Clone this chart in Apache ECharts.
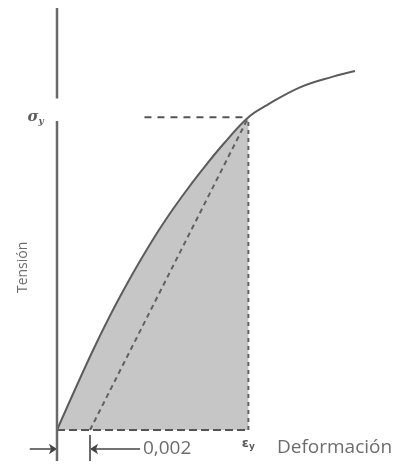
<!DOCTYPE html>
<html><head><meta charset="utf-8">
<script src="https://cdn.jsdelivr.net/npm/echarts@6/dist/echarts.min.js"></script>
<style>html,body{margin:0;padding:0;background:#fff}#c{width:403px;height:465px}</style>
</head><body><div id="c"></div>
<script>
// Stress–strain curve (normalised units)
const strain = [0, 0.002045, 0.003233, 0.004542, 0.005722, 0.006576, 0.007552, 0.008795, 0.010137, 0.0116, 0.012727, 0.014727, 0.016727, 0.01806];
const stress = [0, 60.4, 92.7, 124.9, 151.5, 169.2, 187.7, 209.5, 231.2, 252, 261.8, 276.1, 284.7, 289.2];
const offsetStrain = 0.002;
const yieldStrain = 0.0116;
const yieldStress = 252;
const offsetLabel = '0,002';
const xTitle = 'Deformación';
const yTitle = 'Tensión';

// layout constants (data space)
const X_MIN = -0.003, X_MAX = 0.02, Y_MIN = -25, Y_MAX = 340;
const axisGapTop = 267, axisGapBottom = 249;
const arrowY = -15.3;
const hDashStart = 0.0053;

const curve = strain.map((x, i) => [x, stress[i]]);
const yieldIdx = strain.indexOf(yieldStrain);
const filled = curve.slice(0, yieldIdx + 1);

const GRAY = '#5c5c5c';
const DASH = '#616161';
const seg = (pts, opts) => Object.assign({
  type: 'line', data: pts, symbol: 'none', silent: true, animation: false,
  lineStyle: { color: DASH, width: 2, type: [5, 4] }
}, opts || {});

const texts = [
  { value: [-0.0013, yieldStress], label: { formatter: '{a|σ}{s|y}', align: 'center', verticalAlign: 'middle' } },
  { value: [-0.00206, 131], label: { formatter: yTitle, rotate: 90, align: 'center', verticalAlign: 'middle', fontSize: 14 } },
  { value: [0.00521, arrowY], label: { formatter: offsetLabel, align: 'left', verticalAlign: 'middle', fontSize: 19 } },
  { value: [yieldStrain, -11], label: { formatter: '{e|ε}{s2|y}', align: 'center', verticalAlign: 'middle' } },
  { value: [0.01333, -14.5], label: { formatter: xTitle, align: 'left', verticalAlign: 'middle', fontSize: 19 } }
];

const chart = echarts.init(document.getElementById('c'), null, { renderer: 'canvas' });
chart.setOption({
  animation: false,
  backgroundColor: '#fff',
  grid: { left: 7.5, right: 16, top: 8, bottom: 4, containLabel: false },
  xAxis: { type: 'value', min: X_MIN, max: X_MAX, show: false },
  yAxis: { type: 'value', min: Y_MIN, max: Y_MAX, show: false },
  series: [
    seg(filled, { smooth: 0.4, lineStyle: { width: 0, opacity: 0 }, areaStyle: { color: '#c6c6c6', opacity: 1, origin: 0 } }),
    seg(curve, { smooth: 0.4, lineStyle: { color: GRAY, width: 2 } }),
    seg([[offsetStrain, 0], [yieldStrain, yieldStress]]),
    seg([[yieldStrain, 0], [yieldStrain, yieldStress]], { lineStyle: { color: DASH, width: 2, type: [4, 4] } }),
    seg([[hDashStart, yieldStress], [yieldStrain, yieldStress]], { lineStyle: { color: '#555', width: 2, type: [7, 6] } }),
    seg([[0, 0], [yieldStrain, 0]], { lineStyle: { color: '#555', width: 2, type: [8, 4] } }),
    seg([[0, Y_MIN], [0, axisGapBottom]], { lineStyle: { color: '#6a6a6a', width: 2.5 } }),
    seg([[0, axisGapTop], [0, Y_MAX]], { lineStyle: { color: '#6a6a6a', width: 2.5 } }),
    seg([[offsetStrain, -4], [offsetStrain, Y_MIN]], { lineStyle: { color: '#6a6a6a', width: 2 } }),
    {
      type: 'lines', coordinateSystem: 'cartesian2d', silent: true, animation: false,
      symbol: ['none', 'arrow'], symbolSize: 8,
      lineStyle: { color: '#444', width: 1.5, opacity: 1 },
      data: [
        { coords: [[-0.00165, arrowY], [0, arrowY]] },
        { coords: [[0.00503, arrowY], [offsetStrain, arrowY]] }
      ]
    },
    {
      type: 'scatter', symbolSize: 0, silent: true, clip: false, animation: false,
      data: texts,
      label: {
        show: true, position: 'inside', color: '#474747', fontFamily: 'Open Sans', fontSize: 16,
        rich: {
          a: { fontFamily: 'DejaVu Serif', fontStyle: 'italic', fontWeight: 'bold', fontSize: 15, color: '#333' },
          s: { fontFamily: 'DejaVu Serif', fontStyle: 'italic', fontWeight: 'bold', fontSize: 9, color: '#333', padding: [8, 0, 0, 0] },
          e: { fontFamily: 'DejaVu Sans', fontWeight: 'bold', fontSize: 13, color: '#333' },
          s2: { fontFamily: 'DejaVu Sans', fontWeight: 'bold', fontSize: 9, color: '#333', padding: [7, 0, 0, 0] }
        }
      }
    }
  ]
});
</script></body></html>
